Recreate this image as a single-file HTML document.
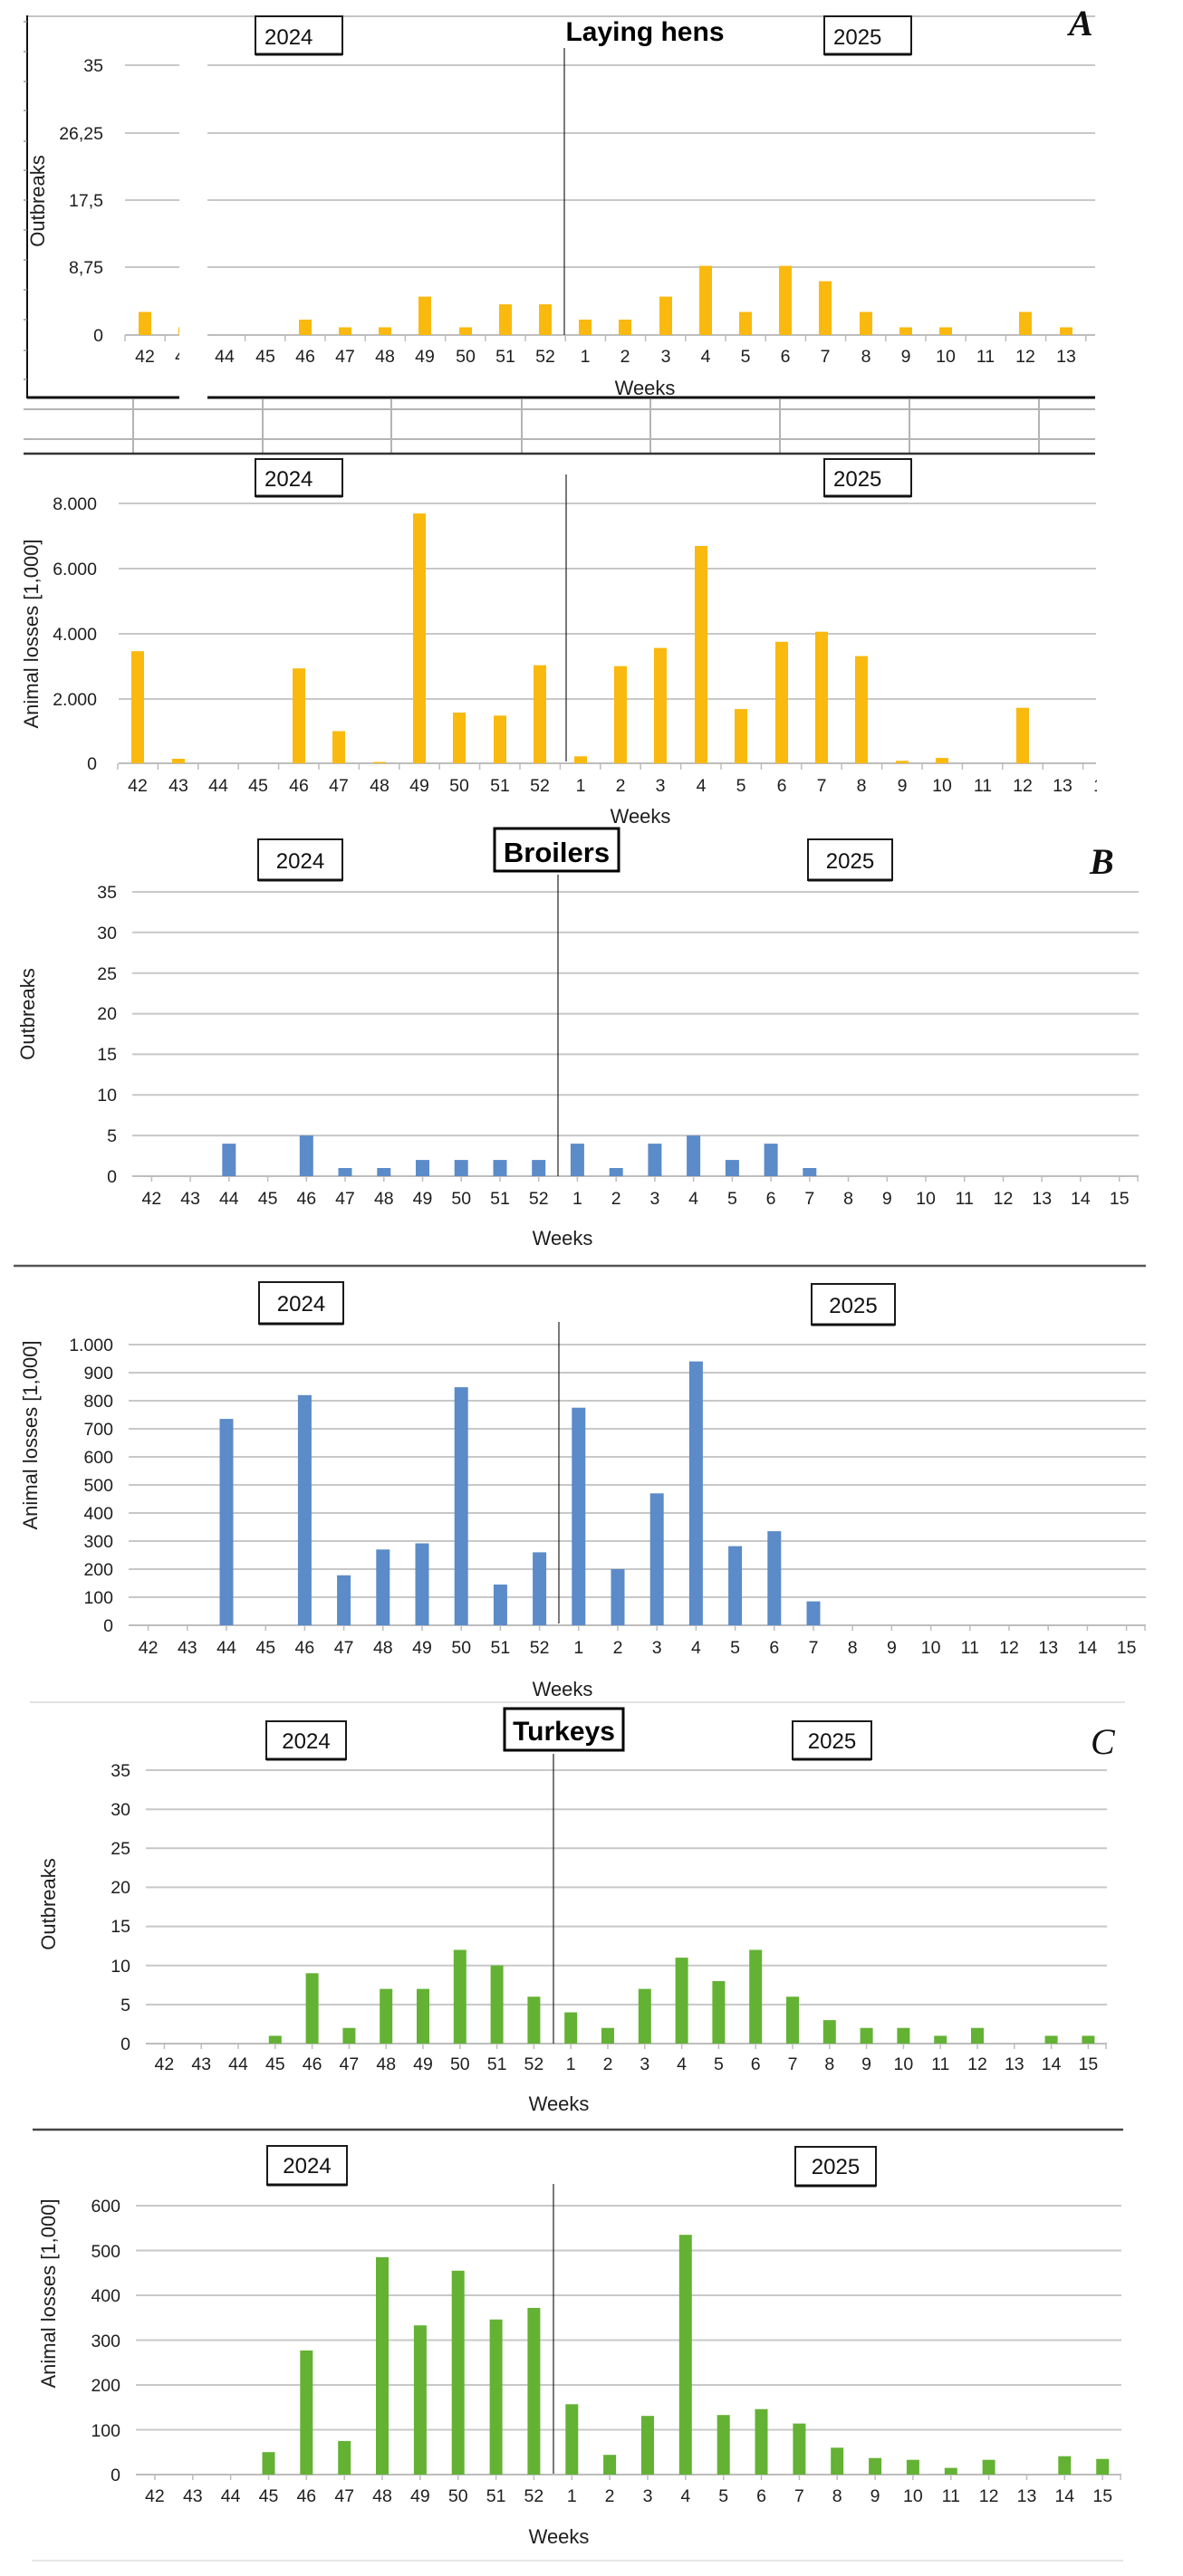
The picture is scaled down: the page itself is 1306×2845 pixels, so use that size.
<!DOCTYPE html>
<html>
<head>
<meta charset="utf-8">
<style>
  html, body { margin:0; padding:0; background:#fff; }
  svg { display:block; }
  .t { font-family:"Liberation Sans", Arial, sans-serif; font-size:19.5px; fill:#1e1e1e; }
  .m { text-anchor:middle; }
  .e { text-anchor:end; }
  .ttl { font-family:"Liberation Sans", Arial, sans-serif; font-size:22px; fill:#1e1e1e; text-anchor:middle; }
  .yr { font-family:"Liberation Sans", Arial, sans-serif; font-size:24px; fill:#111; }
  .hd { font-family:"Liberation Sans", Arial, sans-serif; font-size:31px; font-weight:bold; fill:#000; text-anchor:middle; }
  .lt { font-family:"Liberation Serif", "Times New Roman", serif; font-size:40px; font-style:italic; font-weight:bold; fill:#111; }
  .g { stroke:#c8c8c8; stroke-width:2; fill:none; }
  .ax { stroke:#bdbdbd; stroke-width:2; fill:none; }
  .tk { stroke:#bdbdbd; stroke-width:1.5; fill:none; }
  .dv { stroke:#222; stroke-width:1.2; }
  .bx { fill:#fff; stroke:#1a1a1a; stroke-width:2; }
  .bx3 { fill:#fff; stroke:#000; stroke-width:3; }
  .y { fill:#F9B90E; }
  .b { fill:#5B8BC8; }
  .gr { fill:#63B234; }
</style>
</head>
<body>
<svg width="1306" height="2845" viewBox="0 0 1306 2845" xmlns="http://www.w3.org/2000/svg">
<defs>
  <clipPath id="clipA"><rect x="0" y="0" width="1211" height="2845"/></clipPath>
</defs>
<rect x="0" y="0" width="1306" height="2845" fill="#fff"/>

<!-- ================= PANEL A : OUTBREAKS ================= -->
<line x1="30" y1="18" x2="1209" y2="18" stroke="#b0b0b0" stroke-width="1.5"/>
<line x1="30" y1="17" x2="30" y2="440" stroke="#111" stroke-width="2"/>
<path d="M26 24h4M26 57h4M26 90h4M26 122h4M26 156h4M26 188h4M26 221h4M26 254h4M26 287h4M26 320h4M26 353h4M26 387h4M26 419h4" stroke="#888" stroke-width="1.2"/>
<!-- gridlines -->
<path class="g" d="M138 72H1209M138 147H1209M138 221H1209M138 295H1209"/>
<path class="ax" d="M138 370H1209"/>
<path class="tk" d="M138 370v7M182.2 370v7M270.6 370v7M314.8 370v7M359 370v7M403.2 370v7M447.4 370v7M491.6 370v7M535.8 370v7M580 370v7M624.2 370v7M668.4 370v7M712.6 370v7M756.8 370v7M801 370v7M845.2 370v7M889.4 370v7M933.6 370v7M977.8 370v7M1022 370v7M1066.2 370v7M1110.4 370v7M1154.6 370v7M1198.8 370v7"/>
<!-- bars -->
<g class="y">
<rect x="153" y="344.5" width="14" height="25.5"/>
<rect x="197" y="361.5" width="14" height="8.5"/>
<rect x="330" y="353" width="14" height="17"/>
<rect x="374" y="361.5" width="14" height="8.5"/>
<rect x="418" y="361.5" width="14" height="8.5"/>
<rect x="462" y="327.6" width="14" height="42.4"/>
<rect x="507" y="361.5" width="14" height="8.5"/>
<rect x="551" y="336.1" width="14" height="33.9"/>
<rect x="595" y="336.1" width="14" height="33.9"/>
<rect x="639" y="353" width="14" height="17"/>
<rect x="683" y="353" width="14" height="17"/>
<rect x="728" y="327.6" width="14" height="42.4"/>
<rect x="772" y="293.6" width="14" height="76.4"/>
<rect x="816" y="344.5" width="14" height="25.5"/>
<rect x="860" y="293.6" width="14" height="76.4"/>
<rect x="904" y="310.6" width="14" height="59.4"/>
<rect x="949" y="344.5" width="14" height="25.5"/>
<rect x="993" y="361.5" width="14" height="8.5"/>
<rect x="1037" y="361.5" width="14" height="8.5"/>
<rect x="1125" y="344.5" width="14" height="25.5"/>
<rect x="1170" y="361.5" width="14" height="8.5"/>
</g>
<!-- y labels -->
<g class="t e">
<text x="114" y="79">35</text>
<text x="114" y="154">26,25</text>
<text x="114" y="228">17,5</text>
<text x="114" y="302">8,75</text>
<text x="114" y="377">0</text>
</g>
<!-- week labels -->
<g class="t m">
<text x="160" y="400">42</text><text x="204" y="400">43</text><text x="248" y="400">44</text><text x="293" y="400">45</text>
<text x="337" y="400">46</text><text x="381" y="400">47</text><text x="425" y="400">48</text><text x="469" y="400">49</text>
<text x="514" y="400">50</text><text x="558" y="400">51</text><text x="602" y="400">52</text><text x="646" y="400">1</text>
<text x="690" y="400">2</text><text x="735" y="400">3</text><text x="779" y="400">4</text><text x="823" y="400">5</text>
<text x="867" y="400">6</text><text x="911" y="400">7</text><text x="956" y="400">8</text><text x="1000" y="400">9</text>
<text x="1044" y="400">10</text><text x="1088" y="400">11</text><text x="1132" y="400">12</text><text x="1177" y="400">13</text>
</g>
<text class="ttl" x="712" y="436">Weeks</text>
<text class="ttl" x="49" y="222" transform="rotate(-90 49 222)">Outbreaks</text>
<line class="dv" x1="623" y1="53" x2="623" y2="370"/>
<!-- bottom frame line -->
<line x1="30" y1="439" x2="1209" y2="439" stroke="#111" stroke-width="3"/>
<!-- white break gap -->
<rect x="198" y="20" width="31" height="423" fill="#fff"/>
<!-- boxes -->
<rect class="bx" x="282" y="18" width="96" height="42"/>
<line x1="282" y1="60" x2="378" y2="60" stroke="#111" stroke-width="3"/>
<text class="yr" x="292" y="49">2024</text>
<rect class="bx" x="910" y="18" width="96" height="42"/>
<line x1="910" y1="60" x2="1006" y2="60" stroke="#111" stroke-width="3"/>
<text class="yr" x="920" y="49">2025</text>
<text class="hd" x="712" y="45" style="font-size:30px">Laying hens</text>
<text class="lt" x="1180" y="39">A</text>

<!-- grid strip between -->
<path d="M26 452H1209M26 485H1209" stroke="#b4b4b4" stroke-width="2"/>
<path d="M147 441V501M290 441V501M432 441V501M576 441V501M718 441V501M861 441V501M1004 441V501M1147 441V501" stroke="#b4b4b4" stroke-width="2"/>
<line x1="26" y1="501" x2="1209" y2="501" stroke="#333" stroke-width="2.5"/>

<!-- ================= PANEL A : LOSSES ================= -->
<path class="g" d="M131 556H1210M131 628H1210M131 700H1210M131 772H1210"/>
<path class="ax" d="M131 843H1210"/>
<path class="tk" d="M130 843v7M174.4 843v7M218.8 843v7M263.2 843v7M307.6 843v7M352 843v7M396.4 843v7M440.8 843v7M485.2 843v7M529.6 843v7M574 843v7M618.4 843v7M662.8 843v7M707.2 843v7M751.6 843v7M796 843v7M840.4 843v7M884.8 843v7M929.2 843v7M973.6 843v7M1018 843v7M1062.4 843v7M1106.8 843v7M1151.2 843v7M1195.6 843v7"/>
<g class="y">
<rect x="145" y="719.2" width="14" height="123.8"/>
<rect x="190" y="838" width="14" height="5"/>
<rect x="323" y="738.2" width="14" height="104.8"/>
<rect x="367" y="807.5" width="14" height="35.5"/>
<rect x="412" y="841.5" width="14" height="1.5"/>
<rect x="456" y="567.1" width="14" height="275.9"/>
<rect x="500" y="787" width="14" height="56"/>
<rect x="545" y="790.3" width="14" height="52.7"/>
<rect x="589" y="734.7" width="14" height="108.3"/>
<rect x="634" y="835.3" width="14" height="7.7"/>
<rect x="678" y="735.7" width="14" height="107.3"/>
<rect x="722" y="715.6" width="14" height="127.4"/>
<rect x="767" y="603" width="14" height="240"/>
<rect x="811" y="783.1" width="14" height="59.9"/>
<rect x="856" y="708.8" width="14" height="134.2"/>
<rect x="900" y="697.7" width="14" height="145.3"/>
<rect x="944" y="724.6" width="14" height="118.4"/>
<rect x="989" y="840.3" width="14" height="2.7"/>
<rect x="1033" y="837.1" width="14" height="5.9"/>
<rect x="1122" y="781.7" width="14" height="61.3"/>
</g>
<g class="t e">
<text x="107" y="563">8.000</text>
<text x="107" y="635">6.000</text>
<text x="107" y="707">4.000</text>
<text x="107" y="779">2.000</text>
<text x="107" y="850">0</text>
</g>
<g class="t m" clip-path="url(#clipA)">
<text x="152" y="874">42</text><text x="197" y="874">43</text><text x="241" y="874">44</text><text x="285" y="874">45</text>
<text x="330" y="874">46</text><text x="374" y="874">47</text><text x="419" y="874">48</text><text x="463" y="874">49</text>
<text x="507" y="874">50</text><text x="552" y="874">51</text><text x="596" y="874">52</text><text x="641" y="874">1</text>
<text x="685" y="874">2</text><text x="729" y="874">3</text><text x="774" y="874">4</text><text x="818" y="874">5</text>
<text x="863" y="874">6</text><text x="907" y="874">7</text><text x="951" y="874">8</text><text x="996" y="874">9</text>
<text x="1040" y="874">10</text><text x="1085" y="874">11</text><text x="1129" y="874">12</text><text x="1173" y="874">13</text>
<text x="1218" y="874">14</text>
</g>
<text class="ttl" x="707" y="909">Weeks</text>
<text class="ttl" x="42" y="700" transform="rotate(-90 42 700)">Animal losses [1,000]</text>
<line class="dv" x1="625" y1="524" x2="625" y2="841"/>
<rect class="bx" x="282" y="507" width="96" height="41"/>
<line x1="282" y1="548" x2="378" y2="548" stroke="#111" stroke-width="3"/>
<text class="yr" x="292" y="537">2024</text>
<rect class="bx" x="910" y="507" width="96" height="41"/>
<line x1="910" y1="548" x2="1006" y2="548" stroke="#111" stroke-width="3"/>
<text class="yr" x="920" y="537">2025</text>

<!-- ================= PANEL B : OUTBREAKS ================= -->
<path class="g" d="M146 985H1257M146 1029.8H1257M146 1074.7H1257M146 1119.6H1257M146 1164.4H1257M146 1209.3H1257M146 1254.1H1257"/>
<path class="ax" d="M146 1299H1257"/>
<path class="tk" d="M167.4 1299v6M210.1 1299v6M252.8 1299v6M295.6 1299v6M338.3 1299v6M381 1299v6M423.8 1299v6M466.5 1299v6M509.2 1299v6M552 1299v6M594.7 1299v6M637.4 1299v6M680.2 1299v6M722.9 1299v6M765.6 1299v6M808.4 1299v6M851.1 1299v6M893.8 1299v6M936.5 1299v6M979.3 1299v6M1022 1299v6M1064.7 1299v6M1107.5 1299v6M1150.2 1299v6M1192.9 1299v6M1235.7 1299v6M1256 1299v6"/>
<g class="b">
<rect x="245.3" y="1263.1" width="15" height="35.9"/>
<rect x="330.8" y="1254.1" width="15" height="44.9"/>
<rect x="373.5" y="1290" width="15" height="9"/>
<rect x="416.3" y="1290" width="15" height="9"/>
<rect x="459" y="1281.1" width="15" height="17.9"/>
<rect x="501.7" y="1281.1" width="15" height="17.9"/>
<rect x="544.5" y="1281.1" width="15" height="17.9"/>
<rect x="587.2" y="1281.1" width="15" height="17.9"/>
<rect x="629.9" y="1263.1" width="15" height="35.9"/>
<rect x="672.7" y="1290" width="15" height="9"/>
<rect x="715.4" y="1263.1" width="15" height="35.9"/>
<rect x="758.1" y="1254.1" width="15" height="44.9"/>
<rect x="800.9" y="1281.1" width="15" height="17.9"/>
<rect x="843.6" y="1263.1" width="15" height="35.9"/>
<rect x="886.3" y="1290" width="15" height="9"/>
</g>
<g class="t e">
<text x="129" y="992">35</text>
<text x="129" y="1037">30</text>
<text x="129" y="1082">25</text>
<text x="129" y="1126">20</text>
<text x="129" y="1171">15</text>
<text x="129" y="1216">10</text>
<text x="129" y="1261">5</text>
<text x="129" y="1306">0</text>
</g>
<g class="t m">
<text x="167.4" y="1330">42</text><text x="210.1" y="1330">43</text><text x="252.8" y="1330">44</text><text x="295.6" y="1330">45</text>
<text x="338.3" y="1330">46</text><text x="381" y="1330">47</text><text x="423.8" y="1330">48</text><text x="466.5" y="1330">49</text>
<text x="509.2" y="1330">50</text><text x="552" y="1330">51</text><text x="594.7" y="1330">52</text><text x="637.4" y="1330">1</text>
<text x="680.2" y="1330">2</text><text x="722.9" y="1330">3</text><text x="765.6" y="1330">4</text><text x="808.4" y="1330">5</text>
<text x="851.1" y="1330">6</text><text x="893.8" y="1330">7</text><text x="936.5" y="1330">8</text><text x="979.3" y="1330">9</text>
<text x="1022" y="1330">10</text><text x="1064.7" y="1330">11</text><text x="1107.5" y="1330">12</text><text x="1150.2" y="1330">13</text>
<text x="1192.9" y="1330">14</text><text x="1235.7" y="1330">15</text>
</g>
<text class="ttl" x="621" y="1375">Weeks</text>
<text class="ttl" x="38" y="1120" transform="rotate(-90 38 1120)">Outbreaks</text>
<line class="dv" x1="616" y1="966" x2="616" y2="1299"/>
<rect class="bx3" x="546" y="915" width="137" height="47"/>
<text class="hd" x="614.5" y="952">Broilers</text>
<rect class="bx" x="285" y="927" width="93" height="45"/>
<line x1="285" y1="972" x2="378" y2="972" stroke="#111" stroke-width="3"/>
<text class="yr m" x="331.5" y="959" text-anchor="middle">2024</text>
<rect class="bx" x="892" y="927" width="93" height="45"/>
<line x1="892" y1="972" x2="985" y2="972" stroke="#111" stroke-width="3"/>
<text class="yr" x="938.5" y="959" text-anchor="middle">2025</text>
<text class="lt" x="1203" y="965">B</text>
<line x1="15" y1="1398" x2="1265" y2="1398" stroke="#555" stroke-width="2.5"/>

<!-- ================= PANEL B : LOSSES ================= -->
<path class="g" d="M142 1485H1265M142 1516H1265M142 1547H1265M142 1578H1265M142 1609H1265M142 1640H1265M142 1671H1265M142 1702H1265M142 1733H1265M142 1764H1265"/>
<path class="ax" d="M142 1795H1265"/>
<path class="tk" d="M163.6 1795v6M206.8 1795v6M250 1795v6M293.2 1795v6M336.4 1795v6M379.6 1795v6M422.8 1795v6M466 1795v6M509.2 1795v6M552.4 1795v6M595.6 1795v6M638.8 1795v6M682 1795v6M725.2 1795v6M768.4 1795v6M811.6 1795v6M854.8 1795v6M898 1795v6M941.2 1795v6M984.4 1795v6M1027.6 1795v6M1070.8 1795v6M1114 1795v6M1157.2 1795v6M1200.4 1795v6M1243.6 1795v6M1264 1795v6"/>
<g class="b">
<rect x="242.5" y="1567.1" width="15" height="227.9"/>
<rect x="328.9" y="1540.8" width="15" height="254.2"/>
<rect x="372.1" y="1739.8" width="15" height="55.2"/>
<rect x="415.3" y="1711.3" width="15" height="83.7"/>
<rect x="458.5" y="1704.5" width="15" height="90.5"/>
<rect x="501.7" y="1532.1" width="15" height="262.9"/>
<rect x="544.9" y="1750" width="15" height="45"/>
<rect x="588.1" y="1714.4" width="15" height="80.6"/>
<rect x="631.3" y="1554.7" width="15" height="240.3"/>
<rect x="674.5" y="1733" width="15" height="62"/>
<rect x="717.7" y="1649.3" width="15" height="145.7"/>
<rect x="760.9" y="1503.6" width="15" height="291.4"/>
<rect x="804.1" y="1707.6" width="15" height="87.4"/>
<rect x="847.3" y="1691.1" width="15" height="103.9"/>
<rect x="890.5" y="1768.6" width="15" height="26.4"/>
</g>
<g class="t e">
<text x="125" y="1492">1.000</text>
<text x="125" y="1523">900</text>
<text x="125" y="1554">800</text>
<text x="125" y="1585">700</text>
<text x="125" y="1616">600</text>
<text x="125" y="1647">500</text>
<text x="125" y="1678">400</text>
<text x="125" y="1709">300</text>
<text x="125" y="1740">200</text>
<text x="125" y="1771">100</text>
<text x="125" y="1802">0</text>
</g>
<g class="t m">
<text x="163.6" y="1826">42</text><text x="206.8" y="1826">43</text><text x="250" y="1826">44</text><text x="293.2" y="1826">45</text>
<text x="336.4" y="1826">46</text><text x="379.6" y="1826">47</text><text x="422.8" y="1826">48</text><text x="466" y="1826">49</text>
<text x="509.2" y="1826">50</text><text x="552.4" y="1826">51</text><text x="595.6" y="1826">52</text><text x="638.8" y="1826">1</text>
<text x="682" y="1826">2</text><text x="725.2" y="1826">3</text><text x="768.4" y="1826">4</text><text x="811.6" y="1826">5</text>
<text x="854.8" y="1826">6</text><text x="898" y="1826">7</text><text x="941.2" y="1826">8</text><text x="984.4" y="1826">9</text>
<text x="1027.6" y="1826">10</text><text x="1070.8" y="1826">11</text><text x="1114" y="1826">12</text><text x="1157.2" y="1826">13</text>
<text x="1200.4" y="1826">14</text><text x="1243.6" y="1826">15</text>
</g>
<text class="ttl" x="621" y="1873">Weeks</text>
<text class="ttl" x="41" y="1585" transform="rotate(-90 41 1585)">Animal losses [1,000]</text>
<line class="dv" x1="617" y1="1460" x2="617" y2="1793"/>
<rect class="bx" x="286" y="1416" width="93" height="46"/>
<line x1="286" y1="1462" x2="379" y2="1462" stroke="#111" stroke-width="3"/>
<text class="yr" x="332.5" y="1448" text-anchor="middle">2024</text>
<rect class="bx" x="896" y="1418" width="92" height="45"/>
<line x1="896" y1="1463" x2="988" y2="1463" stroke="#111" stroke-width="3"/>
<text class="yr" x="942" y="1450" text-anchor="middle">2025</text>
<line x1="33" y1="1880" x2="1242" y2="1880" stroke="#e2e2e2" stroke-width="2"/>

<!-- ================= PANEL C : OUTBREAKS ================= -->
<path class="g" d="M161 1955H1222M161 1998.2H1222M161 2041.3H1222M161 2084.4H1222M161 2127.6H1222M161 2170.7H1222M161 2213.9H1222"/>
<path class="ax" d="M161 2257H1222"/>
<path class="tk" d="M181.4 2257v6M222.2 2257v6M263 2257v6M303.8 2257v6M344.6 2257v6M385.4 2257v6M426.2 2257v6M467 2257v6M507.8 2257v6M548.6 2257v6M589.4 2257v6M630.2 2257v6M671 2257v6M711.8 2257v6M752.6 2257v6M793.4 2257v6M834.2 2257v6M875 2257v6M915.8 2257v6M956.6 2257v6M997.4 2257v6M1038.2 2257v6M1079 2257v6M1119.8 2257v6M1160.6 2257v6M1201.4 2257v6M1221 2257v6"/>
<g class="gr">
<rect x="296.8" y="2248.4" width="14" height="8.6"/>
<rect x="337.6" y="2179.3" width="14" height="77.7"/>
<rect x="378.4" y="2239.7" width="14" height="17.3"/>
<rect x="419.2" y="2196.6" width="14" height="60.4"/>
<rect x="460" y="2196.6" width="14" height="60.4"/>
<rect x="500.8" y="2153.5" width="14" height="103.5"/>
<rect x="541.6" y="2170.7" width="14" height="86.3"/>
<rect x="582.4" y="2205.2" width="14" height="51.8"/>
<rect x="623.2" y="2222.5" width="14" height="34.5"/>
<rect x="664" y="2239.7" width="14" height="17.3"/>
<rect x="704.8" y="2196.6" width="14" height="60.4"/>
<rect x="745.6" y="2162.1" width="14" height="94.9"/>
<rect x="786.4" y="2188" width="14" height="69"/>
<rect x="827.2" y="2153.5" width="14" height="103.5"/>
<rect x="868" y="2205.2" width="14" height="51.8"/>
<rect x="908.8" y="2231.1" width="14" height="25.9"/>
<rect x="949.6" y="2239.7" width="14" height="17.3"/>
<rect x="990.4" y="2239.7" width="14" height="17.3"/>
<rect x="1031.2" y="2248.4" width="14" height="8.6"/>
<rect x="1072" y="2239.7" width="14" height="17.3"/>
<rect x="1153.6" y="2248.4" width="14" height="8.6"/>
<rect x="1194.4" y="2248.4" width="14" height="8.6"/>
</g>
<g class="t e">
<text x="144" y="1962">35</text>
<text x="144" y="2005">30</text>
<text x="144" y="2048">25</text>
<text x="144" y="2091">20</text>
<text x="144" y="2134">15</text>
<text x="144" y="2178">10</text>
<text x="144" y="2221">5</text>
<text x="144" y="2264">0</text>
</g>
<g class="t m">
<text x="181.4" y="2286">42</text><text x="222.2" y="2286">43</text><text x="263" y="2286">44</text><text x="303.8" y="2286">45</text>
<text x="344.6" y="2286">46</text><text x="385.4" y="2286">47</text><text x="426.2" y="2286">48</text><text x="467" y="2286">49</text>
<text x="507.8" y="2286">50</text><text x="548.6" y="2286">51</text><text x="589.4" y="2286">52</text><text x="630.2" y="2286">1</text>
<text x="671" y="2286">2</text><text x="711.8" y="2286">3</text><text x="752.6" y="2286">4</text><text x="793.4" y="2286">5</text>
<text x="834.2" y="2286">6</text><text x="875" y="2286">7</text><text x="915.8" y="2286">8</text><text x="956.6" y="2286">9</text>
<text x="997.4" y="2286">10</text><text x="1038.2" y="2286">11</text><text x="1079" y="2286">12</text><text x="1119.8" y="2286">13</text>
<text x="1160.6" y="2286">14</text><text x="1201.4" y="2286">15</text>
</g>
<text class="ttl" x="617" y="2331">Weeks</text>
<text class="ttl" x="61" y="2103" transform="rotate(-90 61 2103)">Outbreaks</text>
<line class="dv" x1="611" y1="1937" x2="611" y2="2257"/>
<rect class="bx3" x="557" y="1887" width="131" height="46"/>
<text class="hd" x="622.5" y="1922" style="font-size:30px">Turkeys</text>
<rect class="bx" x="294" y="1901" width="88" height="42"/>
<line x1="294" y1="1943" x2="382" y2="1943" stroke="#111" stroke-width="3"/>
<text class="yr" x="338" y="1931" text-anchor="middle">2024</text>
<rect class="bx" x="875" y="1901" width="87" height="42"/>
<line x1="875" y1="1943" x2="962" y2="1943" stroke="#111" stroke-width="3"/>
<text class="yr" x="918.5" y="1931" text-anchor="middle">2025</text>
<text class="lt" x="1204" y="1937" style="font-weight:normal">C</text>
<line x1="36" y1="2352" x2="1240" y2="2352" stroke="#444" stroke-width="2.5"/>

<!-- ================= PANEL C : LOSSES ================= -->
<path class="g" d="M150 2436H1238M150 2485.5H1238M150 2535H1238M150 2584.5H1238M150 2634H1238M150 2683.5H1238"/>
<path class="ax" d="M150 2733H1238"/>
<path class="tk" d="M170.9 2733v6M212.8 2733v6M254.6 2733v6M296.5 2733v6M338.3 2733v6M380.2 2733v6M422 2733v6M463.9 2733v6M505.7 2733v6M547.6 2733v6M589.4 2733v6M631.3 2733v6M673.1 2733v6M715 2733v6M756.8 2733v6M798.7 2733v6M840.5 2733v6M882.4 2733v6M924.2 2733v6M966.1 2733v6M1007.9 2733v6M1049.8 2733v6M1091.6 2733v6M1133.5 2733v6M1175.3 2733v6M1217.2 2733v6M1237 2733v6"/>
<g class="gr">
<rect x="289.5" y="2708.2" width="14" height="24.8"/>
<rect x="331.3" y="2595.9" width="14" height="137.1"/>
<rect x="373.2" y="2695.9" width="14" height="37.1"/>
<rect x="415" y="2492.9" width="14" height="240.1"/>
<rect x="456.9" y="2568.2" width="14" height="164.8"/>
<rect x="498.7" y="2507.8" width="14" height="225.2"/>
<rect x="540.6" y="2561.7" width="14" height="171.3"/>
<rect x="582.4" y="2548.9" width="14" height="184.1"/>
<rect x="624.3" y="2655.3" width="14" height="77.7"/>
<rect x="666.1" y="2711.2" width="14" height="21.8"/>
<rect x="708" y="2668.2" width="14" height="64.8"/>
<rect x="749.8" y="2468.2" width="14" height="264.8"/>
<rect x="791.7" y="2667.2" width="14" height="65.8"/>
<rect x="833.5" y="2660.7" width="14" height="72.3"/>
<rect x="875.4" y="2676.6" width="14" height="56.4"/>
<rect x="917.2" y="2703.3" width="14" height="29.7"/>
<rect x="959.1" y="2714.7" width="14" height="18.3"/>
<rect x="1000.9" y="2716.7" width="14" height="16.3"/>
<rect x="1042.8" y="2725.6" width="14" height="7.4"/>
<rect x="1084.6" y="2716.7" width="14" height="16.3"/>
<rect x="1168.3" y="2712.7" width="14" height="20.3"/>
<rect x="1210.2" y="2715.7" width="14" height="17.3"/>
</g>
<g class="t e">
<text x="133" y="2443">600</text>
<text x="133" y="2493">500</text>
<text x="133" y="2542">400</text>
<text x="133" y="2592">300</text>
<text x="133" y="2641">200</text>
<text x="133" y="2691">100</text>
<text x="133" y="2740">0</text>
</g>
<g class="t m">
<text x="170.9" y="2763">42</text><text x="212.8" y="2763">43</text><text x="254.6" y="2763">44</text><text x="296.5" y="2763">45</text>
<text x="338.3" y="2763">46</text><text x="380.2" y="2763">47</text><text x="422" y="2763">48</text><text x="463.9" y="2763">49</text>
<text x="505.7" y="2763">50</text><text x="547.6" y="2763">51</text><text x="589.4" y="2763">52</text><text x="631.3" y="2763">1</text>
<text x="673.1" y="2763">2</text><text x="715" y="2763">3</text><text x="756.8" y="2763">4</text><text x="798.7" y="2763">5</text>
<text x="840.5" y="2763">6</text><text x="882.4" y="2763">7</text><text x="924.2" y="2763">8</text><text x="966.1" y="2763">9</text>
<text x="1007.9" y="2763">10</text><text x="1049.8" y="2763">11</text><text x="1091.6" y="2763">12</text><text x="1133.5" y="2763">13</text>
<text x="1175.3" y="2763">14</text><text x="1217.2" y="2763">15</text>
</g>
<text class="ttl" x="617" y="2809">Weeks</text>
<text class="ttl" x="61" y="2533" transform="rotate(-90 61 2533)">Animal losses [1,000]</text>
<line class="dv" x1="611" y1="2412" x2="611" y2="2732"/>
<rect class="bx" x="295" y="2370" width="88" height="43"/>
<line x1="295" y1="2413" x2="383" y2="2413" stroke="#111" stroke-width="3"/>
<text class="yr" x="339" y="2400" text-anchor="middle">2024</text>
<rect class="bx" x="878" y="2371" width="89" height="43"/>
<line x1="878" y1="2414" x2="967" y2="2414" stroke="#111" stroke-width="3"/>
<text class="yr" x="922.5" y="2401" text-anchor="middle">2025</text>
<line x1="35" y1="2828" x2="1240" y2="2828" stroke="#e6e6e6" stroke-width="2"/>
</svg>
</body>
</html>
